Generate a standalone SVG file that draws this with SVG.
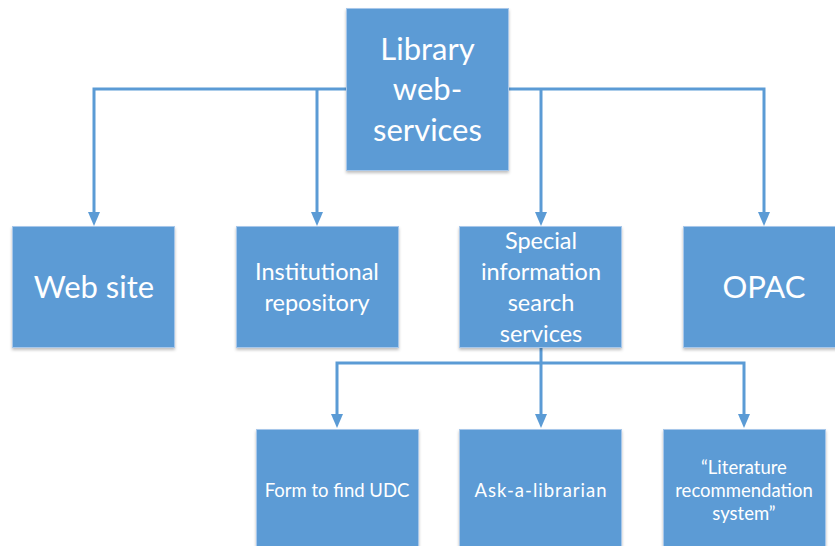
<svg xmlns="http://www.w3.org/2000/svg" width="835" height="546" viewBox="0 0 835 546">
<style>
.box{fill:#5B9BD5;stroke:#A7C7EA;stroke-width:1;filter:url(#sh)}
.t{fill:#ffffff;font-family:Lato,"Open Sans",sans-serif;text-anchor:middle}
.big{font-size:31px}
.mid{font-size:23.5px}
.sm{font-size:18.5px}
.c{fill:none;stroke:#5B9BD5;stroke-width:3}
</style>
<defs>
<filter id="sh" x="-10%" y="-10%" width="120%" height="120%">
<feDropShadow dx="0" dy="2" stdDeviation="1.5" flood-color="#000" flood-opacity="0.25"/>
</filter>
</defs>
<rect width="835" height="546" fill="#ffffff"/>
<g id="connectors">
<path class="c" d="M346,89 H94 V212"/>
<path class="c" d="M317,89 V212"/>
<path class="c" d="M508,89 H764 V212"/>
<path class="c" d="M541,89 V212"/>
<path d="M88,212 H100 L94,226 Z" fill="#5B9BD5"/>
<path d="M311,212 H323 L317,226 Z" fill="#5B9BD5"/>
<path d="M535,212 H547 L541,226 Z" fill="#5B9BD5"/>
<path d="M758,212 H770 L764,226 Z" fill="#5B9BD5"/>
<path class="c" d="M541,347 V414"/>
<path class="c" d="M541,363 H337 V414"/>
<path class="c" d="M541,363 H744 V414"/>
<path d="M331,414 H343 L337,428 Z" fill="#5B9BD5"/>
<path d="M535,414 H547 L541,428 Z" fill="#5B9BD5"/>
<path d="M738,414 H750 L744,428 Z" fill="#5B9BD5"/>
</g>
<g id="root">
<rect class="box" x="346.5" y="8.5" width="162" height="162"/>
<text class="t big" x="427.5" y="60">Library</text>
<text class="t big" x="427.5" y="100">web-</text>
<text class="t big" x="427.5" y="141">services</text>
</g>
<g id="website">
<rect class="box" x="12.5" y="226.5" width="162" height="121"/>
<text class="t big" x="94" y="298">Web site</text>
</g>
<g id="repository">
<rect class="box" x="236.5" y="226.5" width="162" height="121"/>
<text class="t mid" x="317" y="280">Institutional</text>
<text class="t mid" x="317" y="311">repository</text>
</g>
<g id="special">
<rect class="box" x="459.5" y="226.5" width="162" height="121"/>
<text class="t mid" x="541" y="249">Special</text>
<text class="t mid" x="541" y="280">information</text>
<text class="t mid" x="541" y="311">search</text>
<text class="t mid" x="541" y="342">services</text>
</g>
<g id="opac">
<rect class="box" x="683.5" y="226.5" width="162" height="121"/>
<text class="t big" x="764" y="298">OPAC</text>
</g>
<g id="udc">
<rect class="box" x="256.5" y="429.5" width="162" height="130"/>
<text class="t sm" x="337" y="497">Form to find UDC</text>
</g>
<g id="ask">
<rect class="box" x="459.5" y="429.5" width="162" height="130"/>
<text class="t sm" x="541" y="497" letter-spacing="1">Ask-a-librarian</text>
</g>
<g id="literature">
<rect class="box" x="663.5" y="429.5" width="162" height="130"/>
<text class="t sm" x="744" y="474">“Literature</text>
<text class="t sm" x="744" y="497">recommendation</text>
<text class="t sm" x="744" y="520">system”</text>
</g>
</svg>
